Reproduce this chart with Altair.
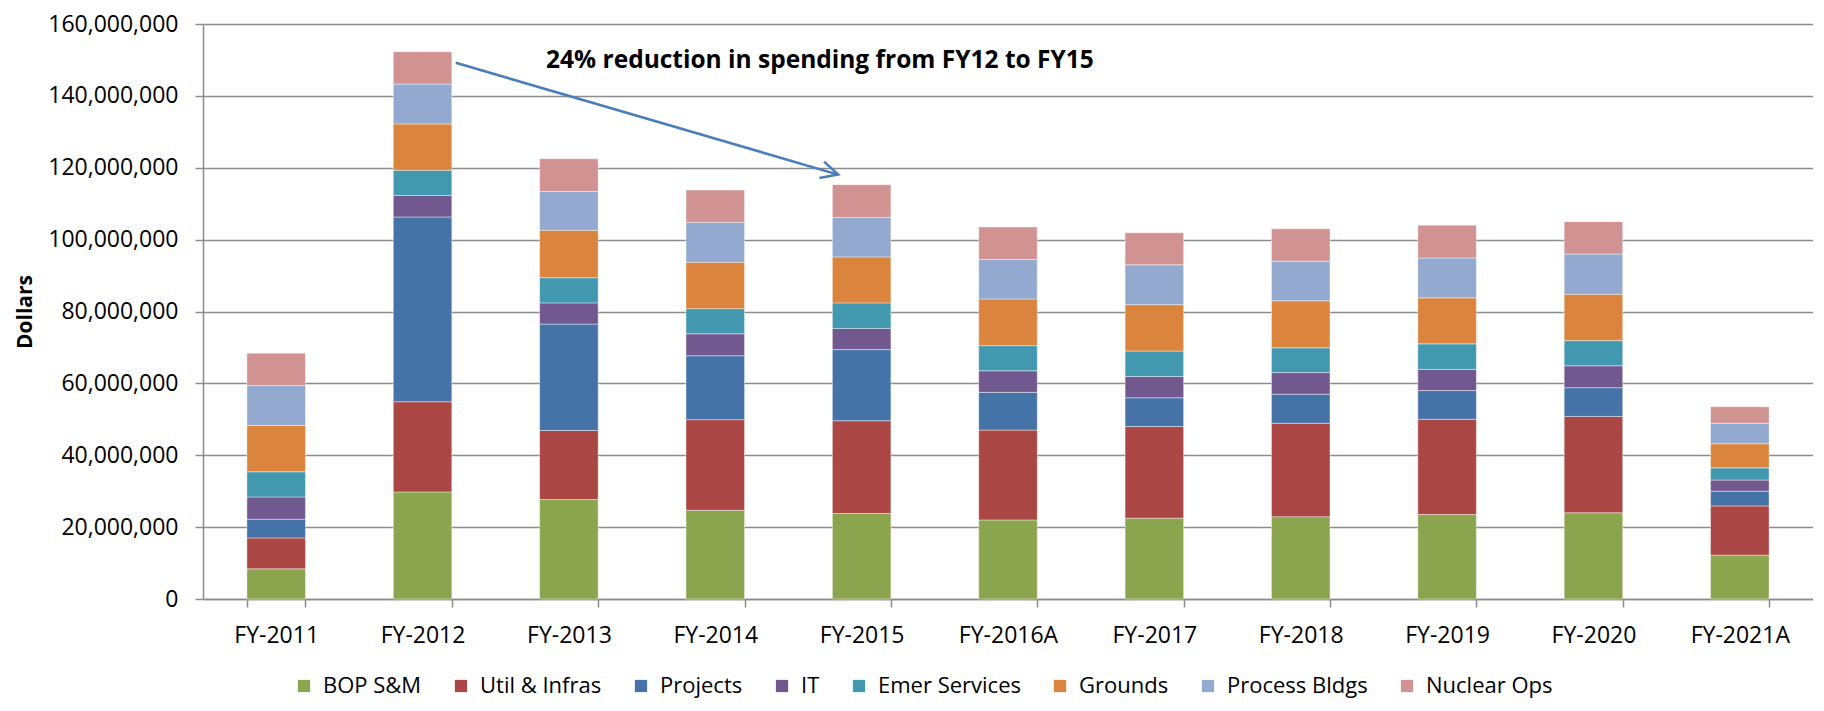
import altair as alt
import pandas as pd

categories = ["FY-2011", "FY-2012", "FY-2013", "FY-2014", "FY-2015", "FY-2016A",
              "FY-2017", "FY-2018", "FY-2019", "FY-2020", "FY-2021A"]
series_names = ["BOP S&M", "Util & Infras", "Projects", "IT", "Emer Services",
                "Grounds", "Process Bldgs", "Nuclear Ops"]
series_colors = ["#8ba54e", "#aa4644", "#4572a7", "#71588f", "#4198af",
                 "#db843d", "#93a9cf", "#d19392"]

# segment amounts, millions of dollars
bop_sm        = [8.4, 29.8, 27.7, 24.7, 23.8, 22.0, 22.5, 22.9, 23.5, 24.0, 12.2]
util_infras   = [8.6, 25.1, 19.2, 25.2, 25.8, 25.0, 25.5, 26.0, 26.5, 26.8, 13.7]
projects      = [5.2, 51.4, 29.6, 17.8, 19.8, 10.5, 8.0, 8.1, 8.0, 8.0, 4.1]
it            = [6.2, 6.0, 5.9, 6.1, 5.9, 6.0, 5.9, 6.0, 5.9, 6.1, 3.1]
emer_services = [7.0, 7.0, 7.0, 7.0, 7.1, 7.0, 7.1, 6.9, 7.1, 7.0, 3.4]
grounds       = [12.9, 12.9, 13.2, 12.9, 12.8, 13.0, 12.9, 13.1, 12.8, 12.9, 6.7]
process_bldgs = [11.1, 11.1, 10.8, 11.1, 11.0, 11.0, 11.1, 11.0, 11.1, 11.2, 5.7]
nuclear_ops   = [9.0, 9.0, 9.1, 9.0, 9.1, 9.0, 8.9, 9.0, 9.1, 9.0, 4.6]

y_ticks = [0, 20000000, 40000000, 60000000, 80000000, 100000000,
           120000000, 140000000, 160000000]

# annotation (x in category units across the plot, y in dollars)
note_text = "24% reduction in spending from FY12 to FY15"
note_x = [2.344]
note_y = [149700000]
arrow_x = [1.727, 4.339]
arrow_y = [149200000, 118100000]

all_series = [bop_sm, util_infras, projects, it, emer_services, grounds,
              process_bldgs, nuclear_ops]
rows = []
for si, (name, vals) in enumerate(zip(series_names, all_series)):
    for cat, v in zip(categories, vals):
        rows.append({"category": cat, "series": name, "value": v * 1_000_000, "order": si})
df = pd.DataFrame(rows)

FONT = "Open Sans"
GRID = "#8c8c8c"

y_scale = alt.Scale(domain=[0, 160000000], nice=False)
y_axis = alt.Axis(values=y_ticks, format=",d", title="Dollars",
                  titleFont=FONT, titleFontSize=21, titleFontWeight="bold",
                  titleColor="#000", titlePadding=12,
                  labelFont=FONT, labelFontSize=23, labelColor="#000",
                  labelPadding=17, tickSize=8, tickColor=GRID, tickWidth=1.5,
                  domainColor=GRID, domainWidth=1.5,
                  grid=True, gridColor=GRID, gridWidth=1.5)

bars = alt.Chart(df).mark_bar(stroke="white", strokeWidth=0.6, strokeOpacity=0.7).encode(
    x=alt.X("category:N", sort=categories, title=None,
            scale=alt.Scale(paddingInner=0.6, paddingOuter=0.3),
            axis=alt.Axis(labelAngle=0, tickBand="extent", ticks=True, tickSize=8,
                          labelPadding=17, domainColor=GRID, tickColor=GRID,
                          domainWidth=1.5, tickWidth=1.5, grid=False,
                          labelFontSize=23, labelFont=FONT, labelColor="#000")),
    y=alt.Y("value:Q", stack="zero", scale=y_scale, axis=y_axis, title="Dollars"),
    color=alt.Color("series:N",
                    scale=alt.Scale(domain=series_names, range=series_colors),
                    legend=alt.Legend(title=None, orient="none", legendX=90, legendY=651,
                                      direction="horizontal", columns=8,
                                      symbolType="square", symbolSize=150,
                                      symbolStrokeWidth=0, symbolOpacity=1,
                                      labelFont=FONT, labelFontSize=22, labelColor="#000",
                                      labelOffset=8, columnPadding=28, labelLimit=0)),
    order=alt.Order("order:Q"),
)

xq = alt.Scale(domain=[0, len(categories)], nice=False, zero=False)

arrow_df = pd.DataFrame({"x": [arrow_x[0]], "x2": [arrow_x[1]],
                         "value": [arrow_y[0]], "value2": [arrow_y[1]]})
arrow_line = alt.Chart(arrow_df).mark_rule(color="#4a7ebb", strokeWidth=2.5).encode(
    x=alt.X("x:Q", scale=xq, axis=None),
    x2="x2:Q",
    y=alt.Y("value:Q", scale=y_scale, axis=y_axis, title="Dollars"),
    y2="value2:Q",
)

head_df = pd.DataFrame({"x": [arrow_x[1]], "value": [arrow_y[1]]})
arrow_head = alt.Chart(head_df).mark_point(
    shape="M -1 -0.5 L 0 0 L -1 0.5", filled=False, stroke="#4a7ebb",
    strokeWidth=2.5, size=1150, angle=16.2, opacity=1,
).encode(
    x=alt.X("x:Q", scale=xq, axis=None),
    y=alt.Y("value:Q", scale=y_scale, axis=y_axis, title="Dollars"),
)

note_df = pd.DataFrame({"x": note_x, "value": note_y, "t": [note_text]})
note = alt.Chart(note_df).mark_text(
    align="left", baseline="middle", font=FONT, fontSize=24.5, fontWeight="bold", color="#000"
).encode(
    x=alt.X("x:Q", scale=xq, axis=None),
    y=alt.Y("value:Q", scale=y_scale, axis=y_axis, title="Dollars"),
    text="t:N",
)

chart = alt.layer(bars, arrow_line, arrow_head, note).resolve_scale(
    x="independent", y="shared"
).properties(
    width=1610, height=575,
    padding={"top": 5, "left": 6, "right": 0, "bottom": 12},
).configure_view(stroke=None)

chart.save("out.html", embed_options={"renderer": "svg", "actions": False})
